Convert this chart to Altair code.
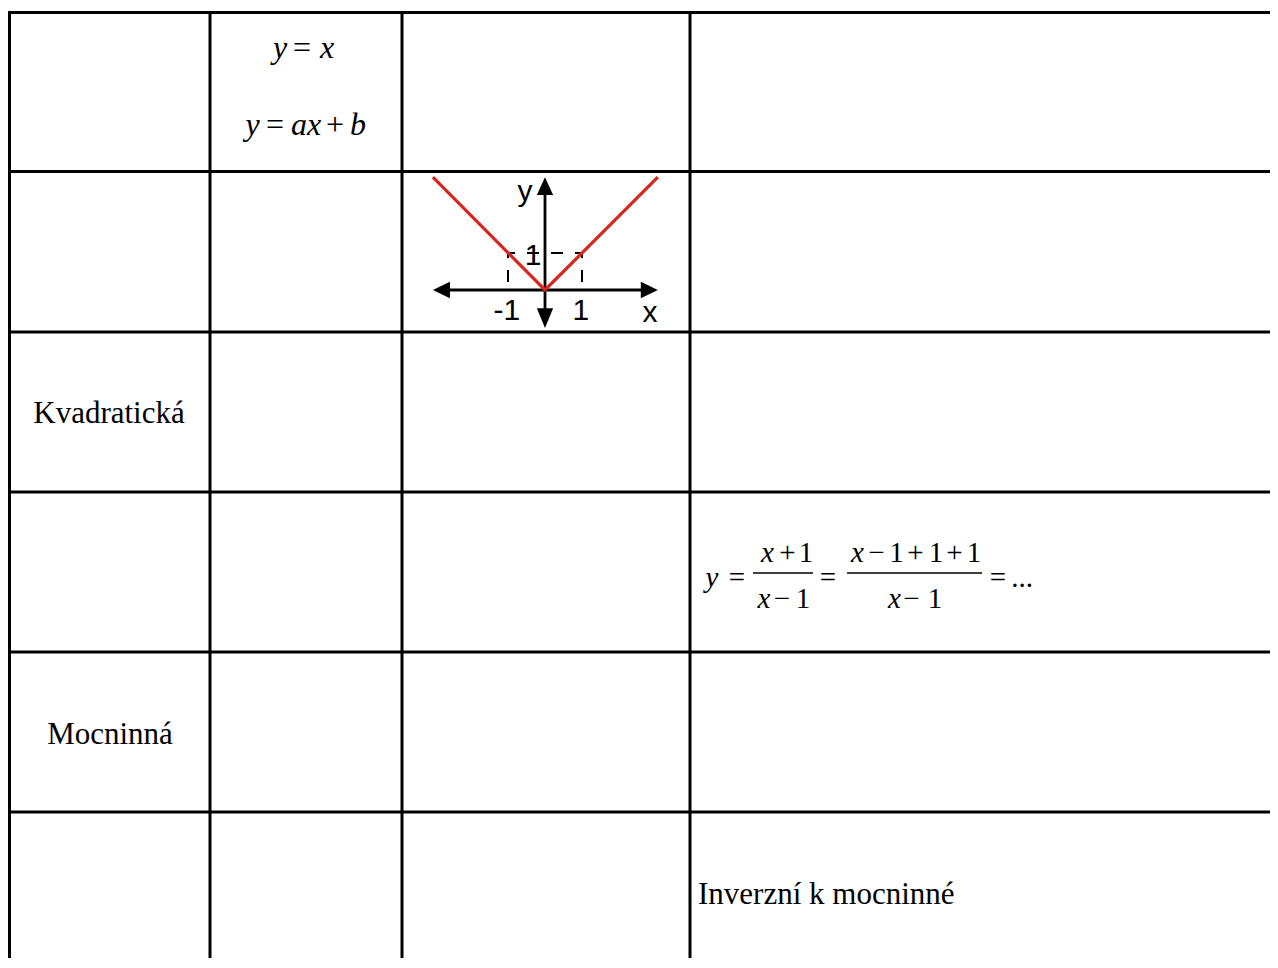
import altair as alt
import pandas as pd

# ---------------- canvas / layout constants ----------------
W, H = 1262, 950          # chart size (page px)
OX, OY = 8, 8             # page margin where the chart starts

# ---------------- table grid (page coordinates) ----------------
col_edges = [9.5, 210, 402, 690]
row_edges = [12.5, 171.5, 332, 492, 652, 812]
table_right = 1300
table_bottom = 990

# ---------------- cell texts ----------------
label_text = ["Kvadratická", "Mocninná"]
label_x = [109, 110]
label_y = [423, 744]

left_text = ["Inverzní k mocninné"]
left_x = [698]
left_y = [904]

# math tokens: text, centre x, baseline y, font size, italic flag
tok_text = ["y", "=", "x",
            "y", "=", "ax", "+", "b",
            "y", "=",
            "x", "+", "1",
            "x", "−", "1",
            "=",
            "x", "−", "1", "+", "1", "+", "1",
            "x", "−", "1",
            "=", "..."]
tok_x = [280, 302, 327,
         252.5, 275, 306, 335, 358,
         712, 737,
         767.5, 787.5, 806,
         764, 782, 803,
         828,
         857.5, 876.5, 896.5, 915.5, 936, 954.5, 974,
         894.5, 911.5, 935,
         998, 1022]
tok_y = [58, 58, 58,
         135, 135, 135, 135, 135,
         587, 587,
         562, 562, 562,
         608, 608, 608,
         587,
         562, 562, 562, 562, 562, 562, 562,
         608, 608, 608,
         587, 587]
tok_fs = [32] * 8 + [29] * 21
tok_it = [1, 0, 1,
          1, 0, 1, 0, 1,
          1, 0,
          1, 0, 0,
          1, 0, 0,
          0,
          1, 0, 0, 0, 0, 0, 0,
          1, 0, 0,
          0, 0]

# fraction bars
bar_x = [753, 847]
bar_x2 = [813, 982]
bar_y = [573, 573]

# ---------------- graph of y = |x| (graph units) ----------------
G_OX, G_OY, G_UNIT = 545, 290, 37   # origin in page px, px per unit

v_x = [-3.03, 0, 3.05]
v_y = [3.05, 0, 3.05]

dash_x = [-1, -1, 1, 1]
dash_y = [0, 1, 1, 0]

harrow_id = ["L", "L", "R", "R"]
harrow_x = [-3.03, -2.57, 3.05, 2.59]
harrow_top = [0, 0.22, 0, 0.22]
harrow_bot = [0, -0.22, 0, -0.22]

varrow_id = ["T", "T", "B", "B"]
varrow_y = [3.05, 2.57, -1.03, -0.49]
varrow_l = [0, -0.22, 0, -0.22]
varrow_r = [0, 0.22, 0, 0.22]

glab_text = ["y", "x", "-1", "1", "1"]
glab_x = [-0.54, 2.84, -1.03, 0.97, -0.32]
glab_y = [2.41, -0.865, -0.81, -0.81, 0.68]

# ---------------- scales ----------------
xs = alt.Scale(domain=[OX, OX + W])
ys = alt.Scale(domain=[OY, OY + H], reverse=True)
gxs = alt.Scale(domain=[(OX - G_OX) / G_UNIT, (OX + W - G_OX) / G_UNIT])
gys = alt.Scale(domain=[(G_OY - OY - H) / G_UNIT, (G_OY - OY) / G_UNIT])

BLACK = "#000000"
RED = "#d9261c"
SERIF = "Liberation Serif"
SANS = "Liberation Sans"

# ---------------- table layers ----------------
vl = pd.DataFrame({"x": col_edges, "y": [row_edges[0]] * len(col_edges),
                   "y2": [table_bottom] * len(col_edges)})
hl = pd.DataFrame({"y": row_edges, "x": [col_edges[0]] * len(row_edges),
                   "x2": [table_right] * len(row_edges)})

vrules = alt.Chart(vl).mark_rule(color=BLACK, strokeWidth=3, strokeCap="square", clip=True).encode(
    x=alt.X("x:Q", scale=xs, axis=None),
    y=alt.Y("y:Q", scale=ys, axis=None),
    y2="y2:Q")
hrules = alt.Chart(hl).mark_rule(color=BLACK, strokeWidth=3, strokeCap="square", clip=True).encode(
    x=alt.X("x:Q", scale=xs, axis=None),
    x2="x2:Q",
    y=alt.Y("y:Q", scale=ys, axis=None))

bars = alt.Chart(pd.DataFrame({"x": bar_x, "x2": bar_x2, "y": bar_y})).mark_rule(
    color=BLACK, strokeWidth=1.6).encode(
    x=alt.X("x:Q", scale=xs, axis=None), x2="x2:Q",
    y=alt.Y("y:Q", scale=ys, axis=None))

labels = alt.Chart(pd.DataFrame({"t": label_text, "x": label_x, "y": label_y})).mark_text(
    font=SERIF, fontSize=31, align="center", baseline="alphabetic", color=BLACK).encode(
    x=alt.X("x:Q", scale=xs, axis=None), y=alt.Y("y:Q", scale=ys, axis=None), text="t:N")

left_labels = alt.Chart(pd.DataFrame({"t": left_text, "x": left_x, "y": left_y})).mark_text(
    font=SERIF, fontSize=31, align="left", baseline="alphabetic", color=BLACK).encode(
    x=alt.X("x:Q", scale=xs, axis=None), y=alt.Y("y:Q", scale=ys, axis=None), text="t:N")

tok = pd.DataFrame({"t": tok_text, "x": tok_x, "y": tok_y, "fs": tok_fs, "it": tok_it})

def tok_layer(italic):
    return alt.Chart(tok).transform_filter(alt.datum.it == italic).mark_text(
        font=SERIF, fontStyle="italic" if italic else "normal",
        align="center", baseline="alphabetic", color=BLACK).encode(
        x=alt.X("x:Q", scale=xs, axis=None), y=alt.Y("y:Q", scale=ys, axis=None),
        text="t:N", size=alt.Size("fs:Q", scale=None, legend=None))

table = alt.layer(vrules, hrules, bars, labels, left_labels, tok_layer(0), tok_layer(1))

# ---------------- graph layers ----------------
dash = alt.Chart(pd.DataFrame({"x": dash_x, "y": dash_y, "i": list(range(len(dash_x)))})).mark_line(
    color=BLACK, strokeWidth=2, strokeDash=[12, 12], strokeDashOffset=16).encode(
    x=alt.X("x:Q", scale=gxs, axis=None), y=alt.Y("y:Q", scale=gys, axis=None),
    order="i:Q")

haxis = alt.Chart(pd.DataFrame({"x": [-2.6], "x2": [2.6], "y": [0]})).mark_rule(
    color=BLACK, strokeWidth=2.8).encode(
    x=alt.X("x:Q", scale=gxs, axis=None), x2="x2:Q", y=alt.Y("y:Q", scale=gys, axis=None))
vaxis = alt.Chart(pd.DataFrame({"y": [-0.55], "y2": [2.6], "x": [0]})).mark_rule(
    color=BLACK, strokeWidth=2.8).encode(
    y=alt.Y("y:Q", scale=gys, axis=None), y2="y2:Q", x=alt.X("x:Q", scale=gxs, axis=None))

harrows = alt.Chart(pd.DataFrame({"id": harrow_id, "x": harrow_x, "t": harrow_top, "b": harrow_bot})).mark_area(
    color=BLACK, orient="vertical", opacity=1).encode(
    x=alt.X("x:Q", scale=gxs, axis=None), y=alt.Y("t:Q", scale=gys, axis=None), y2="b:Q",
    detail="id:N")
varrows = alt.Chart(pd.DataFrame({"id": varrow_id, "y": varrow_y, "l": varrow_l, "r": varrow_r})).mark_area(
    color=BLACK, orient="horizontal", opacity=1).encode(
    y=alt.Y("y:Q", scale=gys, axis=None), x=alt.X("l:Q", scale=gxs, axis=None), x2="r:Q",
    detail="id:N")

vline = alt.Chart(pd.DataFrame({"x": v_x, "y": v_y, "i": list(range(len(v_x)))})).mark_line(
    color=RED, strokeWidth=3.2).encode(
    x=alt.X("x:Q", scale=gxs, axis=None), y=alt.Y("y:Q", scale=gys, axis=None), order="i:Q")

glabels = alt.Chart(pd.DataFrame({"t": glab_text, "x": glab_x, "y": glab_y})).mark_text(
    font=SANS, fontSize=30, align="center", baseline="alphabetic", color=BLACK).encode(
    x=alt.X("x:Q", scale=gxs, axis=None), y=alt.Y("y:Q", scale=gys, axis=None), text="t:N")

graph = alt.layer(dash, haxis, vaxis, harrows, varrows, vline, glabels)

chart = alt.layer(table, graph).resolve_scale(x="independent", y="independent").properties(
    width=W, height=H, padding=0, autosize="none", background="white"
).configure_view(stroke=None)

chart.save("out.html", embed_options={"renderer": "svg", "actions": False})
